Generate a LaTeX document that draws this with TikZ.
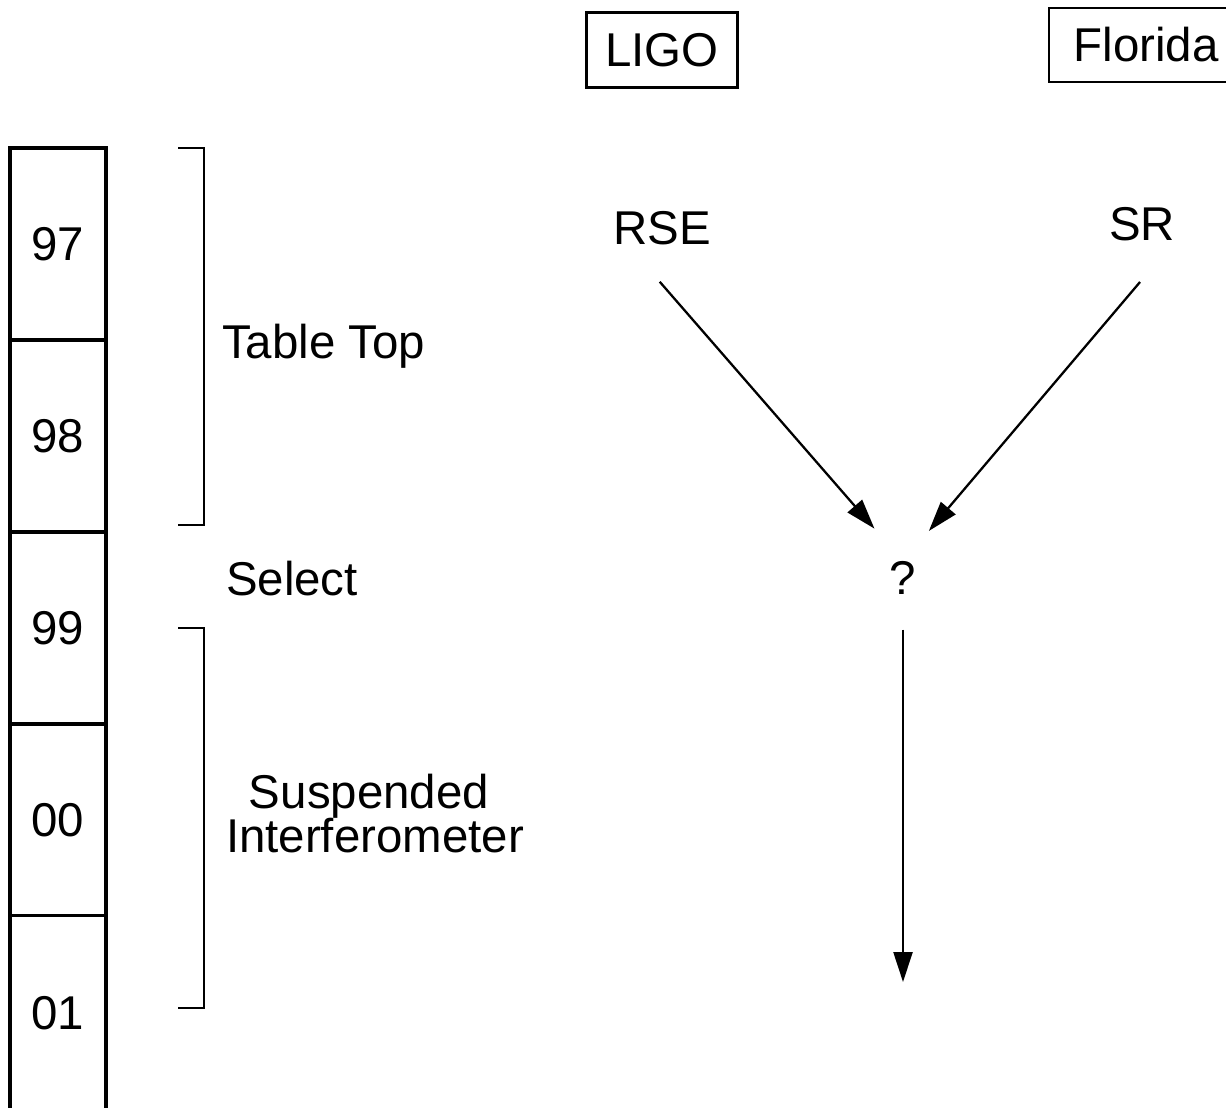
\documentclass[tikz,border=0pt]{standalone}
\usepackage{fontspec}
\setmainfont{Liberation Sans}
\usetikzlibrary{arrows.meta, positioning}
\newcommand\lblfont{\fontsize{27pt}{31pt}\selectfont}

\begin{document}
\begin{tikzpicture}[% styles used in image code
x = 0.02cm, y = -0.02cm,
         > = {Triangle[length=6mm, width=3.8mm]},
every node/.style = {font=\lblfont, inner sep=0pt, outer sep=0pt},
cell/.style = {draw, line width=1.8pt,
               minimum width=1.92cm, minimum height=3.84cm},
tag/.style  = {draw, line width=1.3pt},
brace/.style = {line width=1.6pt},
flow/.style = {->, line width=1.3pt}
                    ]
	\useasboundingbox (0,0) rectangle (1226,1107);
	\clip (0,0) rectangle (1226,1107);

	% year column
	\node[cell] (c97) at (58,244) {97};
	\node[cell, below=0pt of c97] (c98) {98};
	\node[cell, below=0pt of c98] (c99) {99};
	\node[cell, below=0pt of c99] (c00) {00};
	\node[cell, below=0pt of c00, minimum height=3.9cm] (c01) {01};

	% brackets and phases
	\draw[brace] (178,148) -| (204,525) -- (178,525);
	\draw[brace] (178,628) -| (204,1008) -- (178,1008);
	\node[anchor=base west] (tabletop) at (222,358) {Table Top};
	\node[anchor=base west] (select) at (226,595) {Select};
	\node[anchor=base] (susp) at (369,808) {Suspended};
	\node[anchor=base west] (interf) at (226,852) {Interferometer};

	% sites and schemes
	\node[tag, minimum width=3.02cm, minimum height=1.5cm] (ligo) at (662,50) {LIGO};
	\node[tag, minimum width=3.88cm, minimum height=1.48cm] (florida) at (1146,45) {Florida};
	\node (rse) at (662,228) {RSE};
	\node (sr) at (1142,224) {SR};
	\node (q) at (903,578) {?};
	\coordinate (out) at (903,982);

	\draw[flow, shorten <=0.98cm, shorten >=0.87cm] (rse.206) -- (q.north);
	\draw[flow, shorten <=1.08cm, shorten >=0.8cm] (sr.south east) -- (q.north);
	\draw[flow, shorten <=0.7cm] (q.south) -- (out);
\end{tikzpicture}
\end{document}
